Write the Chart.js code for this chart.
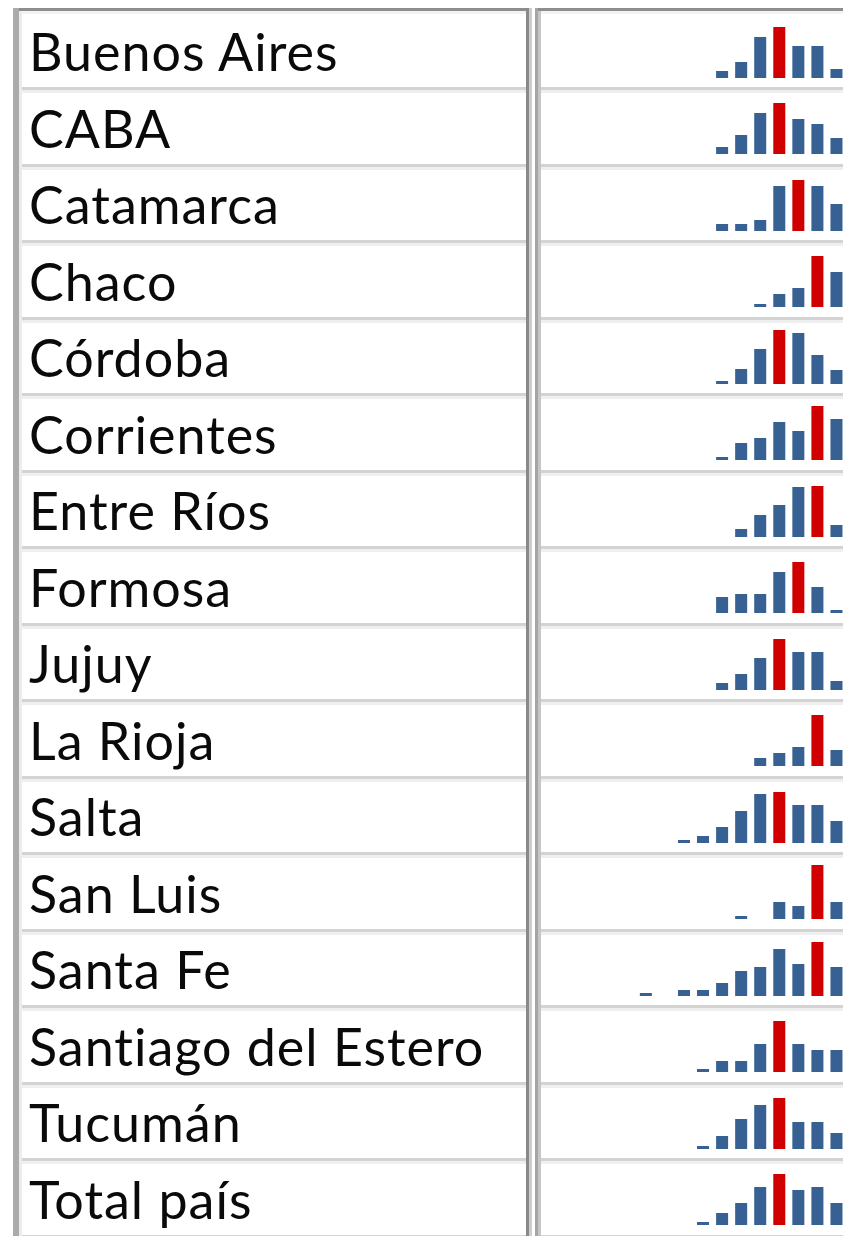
<!DOCTYPE html>
<html>
<head>
<meta charset="utf-8">
<script src="https://cdn.jsdelivr.net/npm/chart.js@4.4.1/dist/chart.umd.min.js"></script>
<style>
  html, body {
    margin: 0;
    padding: 0;
    background: #fff;
    width: 843px;
    height: 1236px;
    overflow: hidden;
  }
  .abs { position: absolute; }
  .name {
    position: absolute;
    left: 29px;
    font-family: "Lato", sans-serif;
    font-size: 52px;
    line-height: 52px;
    letter-spacing: 1px;
    font-variant-ligatures: none;
    color: #0a0a0a;
    white-space: nowrap;
  }
  canvas.spark { position: absolute; left: 541px; }
</style>
</head>
<body>
<div id="sheet"></div>
<script>
// provincias y series semanales (alto relativo de cada columna)
var provincias = [
  "Buenos Aires", "CABA", "Catamarca", "Chaco", "Córdoba", "Corrientes",
  "Entre Ríos", "Formosa", "Jujuy", "La Rioja", "Salta", "San Luis",
  "Santa Fe", "Santiago del Estero", "Tucumán", "Total país"
];
var semanas = ["1", "2", "3", "4", "5", "6", "7", "8", "9", "10", "11", "12", "13", "14", "15", "16"];

var buenosAires = [0, 0, 0, 0, 0, 0, 0, 0, 0, 7, 16, 41, 51, 32, 32, 9];
var caba = [0, 0, 0, 0, 0, 0, 0, 0, 0, 7, 19, 41, 51, 35, 30, 16];
var catamarca = [0, 0, 0, 0, 0, 0, 0, 0, 0, 7, 7, 11, 45, 51, 45, 27];
var chaco = [0, 0, 0, 0, 0, 0, 0, 0, 0, 0, 0, 3, 13, 19, 51, 35];
var cordoba = [0, 0, 0, 0, 0, 0, 0, 0, 0, 3, 15, 35, 54, 51, 29, 14];
var corrientes = [0, 0, 0, 0, 0, 0, 0, 0, 0, 3, 17, 22, 38, 29, 54, 41];
var entreRios = [0, 0, 0, 0, 0, 0, 0, 0, 0, 0, 8, 22, 32, 50, 51, 12];
var formosa = [0, 0, 0, 0, 0, 0, 0, 0, 0, 16, 19, 19, 41, 51, 26, 3];
var jujuy = [0, 0, 0, 0, 0, 0, 0, 0, 0, 7, 16, 32, 51, 38, 38, 9];
var laRioja = [0, 0, 0, 0, 0, 0, 0, 0, 0, 0, 0, 8, 13, 19, 51, 16];
var salta = [0, 0, 0, 0, 0, 0, 0, 3, 7, 16, 32, 49, 51, 38, 38, 22];
var sanLuis = [0, 0, 0, 0, 0, 0, 0, 0, 0, 0, 3, 0, 17, 13, 54, 17];
var santaFe = [0, 0, 0, 0, 0, 3, 0, 6, 6, 13, 25, 29, 47, 32, 54, 29];
var santiagoDelEstero = [0, 0, 0, 0, 0, 0, 0, 0, 3, 11, 11, 28, 51, 28, 22, 22];
var tucuman = [0, 0, 0, 0, 0, 0, 0, 0, 3, 13, 30, 44, 51, 27, 27, 16];
var totalPais = [0, 0, 0, 0, 0, 0, 0, 0, 3, 12, 22, 38, 51, 35, 38, 22];

var series = [
  buenosAires, caba, catamarca, chaco, cordoba, corrientes, entreRios, formosa,
  jujuy, laRioja, salta, sanLuis, santaFe, santiagoDelEstero, tucuman, totalPais
];

var blue = "#376192",
  red = "#d00000",
  yMax = 54;

var sheet = document.getElementById("sheet");

addBlock = (x, y, w, h, color) => {
  let d = document.createElement("div");
  d.className = "abs";
  d.style.left = x + "px";
  d.style.top = y + "px";
  d.style.width = w + "px";
  d.style.height = h + "px";
  d.style.background = color;
  sheet.appendChild(d);
  return d;
};

sepTop = (i) => 87 + 76.5 * i;

// bandas claras bajo el borde superior
addBlock(13, 11, 519, 3, "#f3f3f3");
addBlock(535, 11, 320, 3, "#f3f3f3");

// separadores de filas
for (let i = 0; i < provincias.length; i++) {
  let y = Math.round(sepTop(i));
  addBlock(13, y, 519, 3, "#d3d3d3");
  addBlock(13, y + 3, 519, 3, "#efefef");
  addBlock(535, y, 320, 3, "#d3d3d3");
  addBlock(535, y + 3, 320, 3, "#efefef");
}

// bordes
addBlock(13, 8, 519, 3, "#8e8e8e");
addBlock(535, 8, 320, 3, "#8e8e8e");
addBlock(13, 8, 6, 1240, "#ababab");
addBlock(19, 11, 3, 1240, "#ececec");
addBlock(526, 8, 3, 1240, "#898989");
addBlock(529, 8, 3, 1240, "#cdcdcd");
addBlock(535, 8, 3, 1240, "#a6a6a6");
addBlock(538, 11, 3, 1240, "#c6c6c6");

$each = (list, fn) => list.forEach(fn);

$each(provincias, (name, i) => {
  let base = sepTop(i);

  let label = document.createElement("div");
  label.className = "name";
  label.textContent = name;
  label.style.top = Math.round(base - 15 - 47) + "px";
  sheet.appendChild(label);

  let canvas = document.createElement("canvas");
  canvas.className = "spark";
  canvas.width = 305;
  canvas.height = yMax;
  canvas.style.top = Math.round(base - 9.5 - yMax) + "px";
  sheet.appendChild(canvas);

  let values = series[i],
    top = Math.max.apply(null, values),
    colors = values.map((v) => (v === top ? red : blue));

  new Chart(canvas, {
    type: "bar",
    data: {
      labels: semanas,
      datasets: [
        {
          data: values,
          backgroundColor: colors,
          borderWidth: 0,
          barPercentage: 0.63,
          categoryPercentage: 1,
        },
      ],
    },
    options: {
      responsive: false,
      animation: false,
      events: [],
      layout: { padding: 0 },
      plugins: {
        legend: { display: false },
        tooltip: { enabled: false },
      },
      scales: {
        x: { display: false },
        y: { display: false, min: 0, max: yMax },
      },
    },
  });
});
</script>
</body>
</html>
